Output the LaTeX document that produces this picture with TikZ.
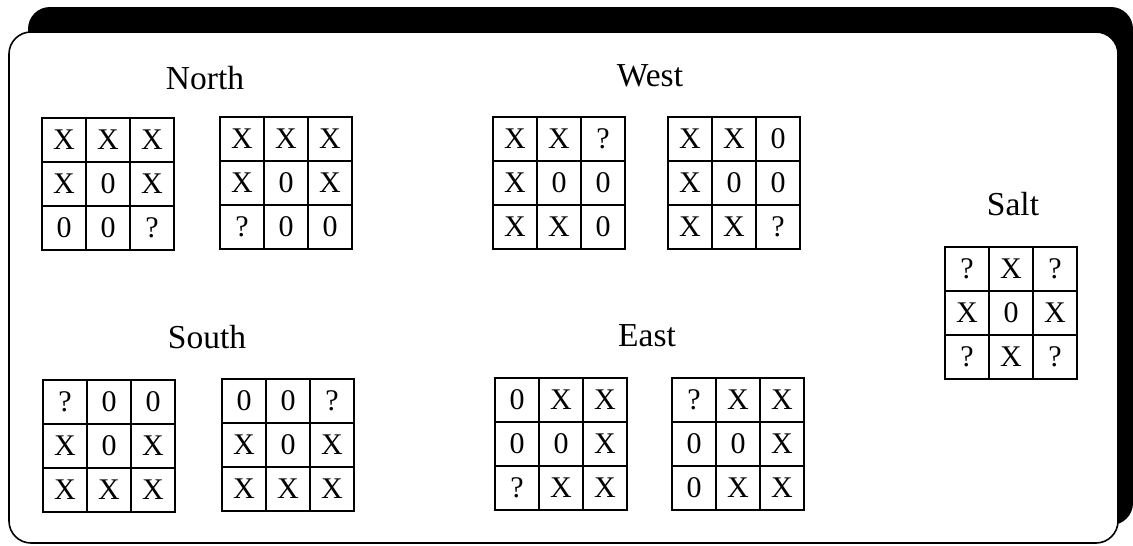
\documentclass[tikz,border=0pt]{standalone}
\usepackage{fontspec}
\setmainfont{Liberation Serif}
\begin{document}
\begin{tikzpicture}[x=1pt,y=-1pt,
  cell/.style={draw, line width=1.6pt, minimum width=44pt, minimum height=44pt, inner sep=0pt, font=\fontsize{30}{32}\selectfont},
  title/.style={font=\fontsize{33.5}{38}\selectfont, inner sep=0pt},
  shadowbox/.style={fill=black, rounded corners=22pt},
  framebox/.style={draw, fill=white, line width=1.6pt, rounded corners=22pt}]
\useasboundingbox (0,0) rectangle (1133,546);
\newcommand\tttboard[4]{%
  \foreach \v [count=\i from 0] in {#4} {
    \pgfmathtruncatemacro\rr{\i/3}
    \pgfmathtruncatemacro\cc{mod(\i,3)}
    \node[cell] (#1-\i) at (#2+\cc*44+22, #3+\rr*44+22) {\v};
  }}
% frame
\path[shadowbox] (28,7) rectangle (1133,525);
\path[framebox] (9,32) rectangle (1118,543);
% titles
\node[title] (tN) at (205,78) {North};
\node[title] (tW) at (650,76) {West};
\node[title] (tSa) at (1013,204) {Salt};
\node[title] (tS) at (207,337) {South};
\node[title] (tE) at (647,336) {East};
% boards
\tttboard{nl}{42}{118}{X,X,X,X,0,X,0,0,?}
\tttboard{nr}{220}{117}{X,X,X,X,0,X,?,0,0}
\tttboard{wl}{493}{117}{X,X,?,X,0,0,X,X,0}
\tttboard{wr}{668}{117}{X,X,0,X,0,0,X,X,?}
\tttboard{sa}{945}{247}{?,X,?,X,0,X,?,X,?}
\tttboard{sl}{43}{380}{?,0,0,X,0,X,X,X,X}
\tttboard{sr}{222}{379}{0,0,?,X,0,X,X,X,X}
\tttboard{el}{495}{378}{0,X,X,0,0,X,?,X,X}
\tttboard{er}{672}{378}{?,X,X,0,0,X,0,X,X}
\end{tikzpicture}
\end{document}
